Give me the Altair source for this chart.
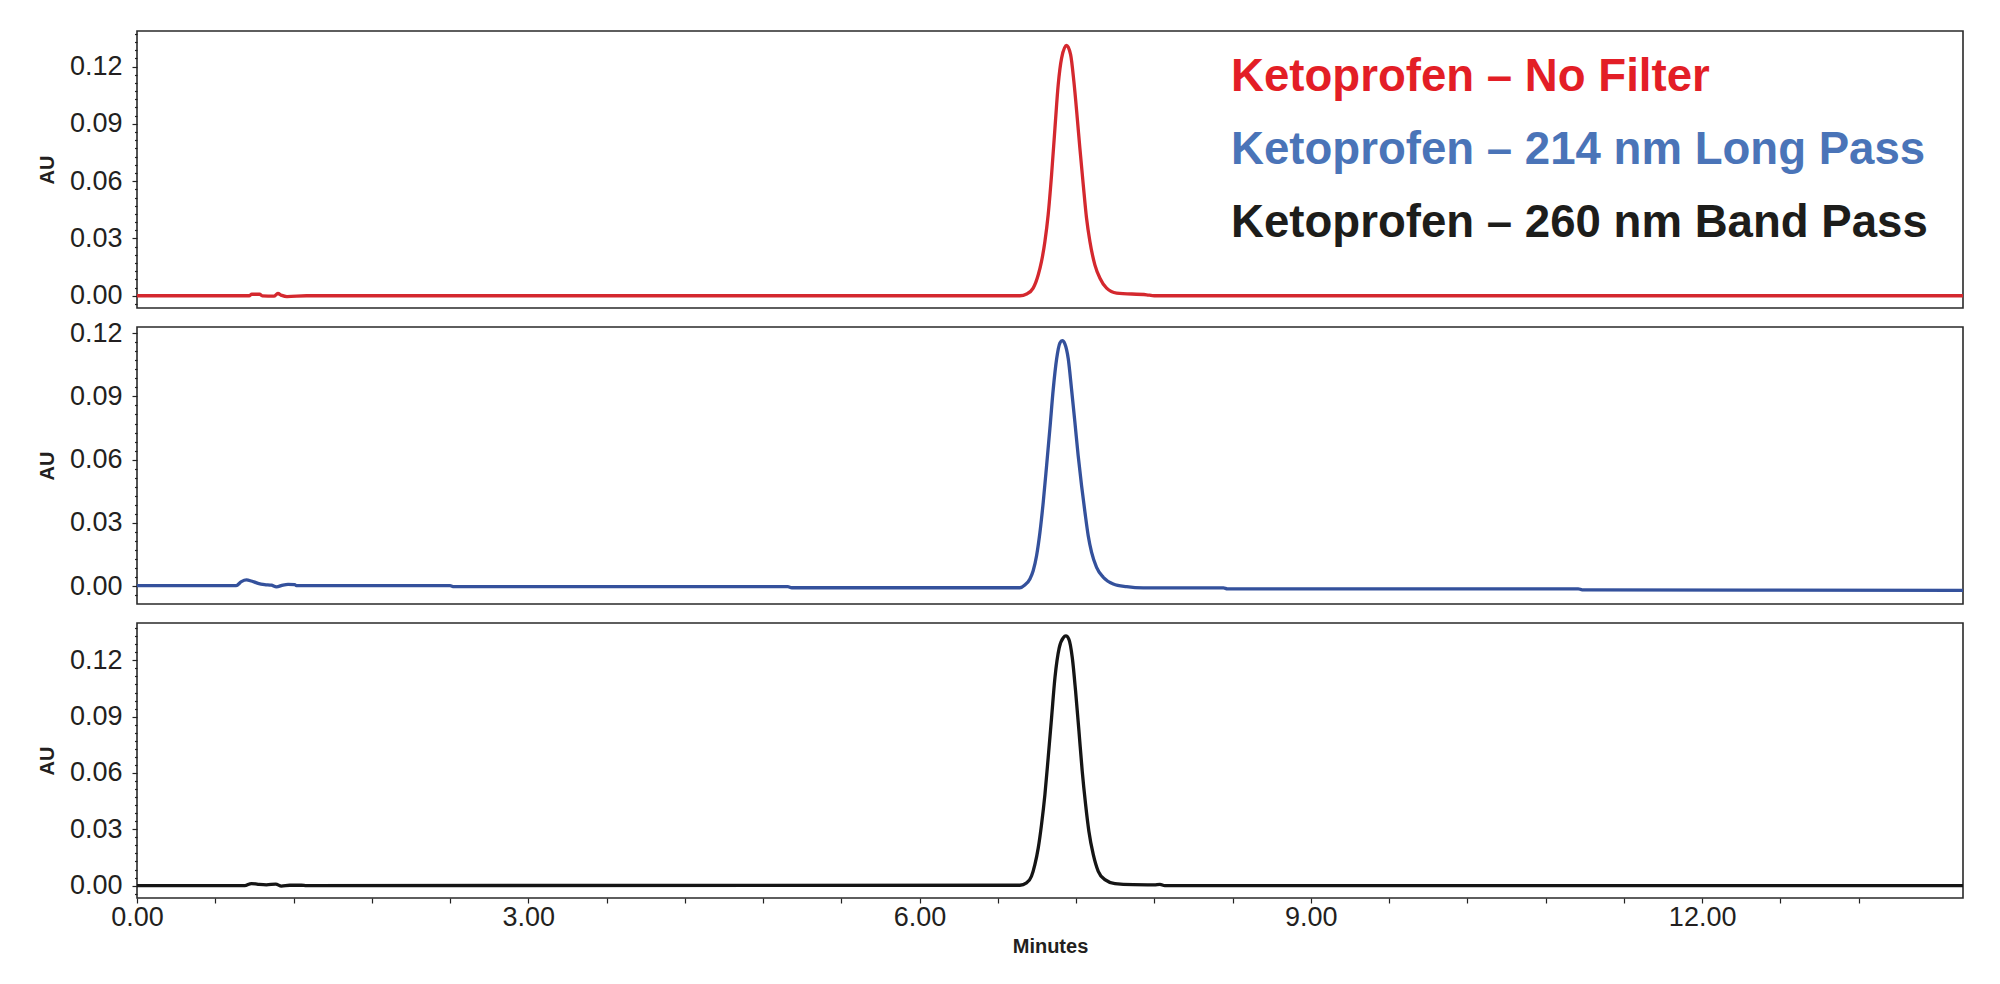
import altair as alt
import pandas as pd

# ---------------- data ----------------
red_t = [0.00, 0.86, 0.88, 0.94, 0.96, 1.05, 1.08, 1.11, 1.15, 1.30,
         6.769, 6.821, 6.871, 6.910, 6.935, 6.961, 6.986, 7.012, 7.038, 7.063, 7.089, 7.127,
         7.158, 7.183, 7.209, 7.229, 7.255, 7.280, 7.306, 7.344, 7.383, 7.434, 7.511, 7.741,
         7.80, 14.0]
red_v = [0.0, 0.0, 0.0008, 0.0008, 0.0, -0.0002, 0.0012, 0.0002, -0.0004, 0.0,
         0.0, 0.0009, 0.0040, 0.0110, 0.0180, 0.0284, 0.0424, 0.0633, 0.0878, 0.1105, 0.1244, 0.1310,
         0.1262, 0.1122, 0.0930, 0.0773, 0.0581, 0.0407, 0.0284, 0.0162, 0.0092, 0.0040, 0.0014, 0.0005,
         0.0, 0.0]

blue_t = [0.0, 0.76, 0.80, 0.839, 0.877, 0.928, 0.979, 1.031, 1.069, 1.12, 1.158, 1.209, 1.222,
          2.40, 2.43, 4.99, 5.02,
          6.769, 6.807, 6.846, 6.871, 6.897, 6.923, 6.948, 6.974, 6.999, 7.025, 7.051, 7.076, 7.094,
          7.114, 7.140, 7.165, 7.191, 7.216, 7.242, 7.268, 7.293, 7.319, 7.357, 7.408, 7.485, 7.588, 7.715,
          8.33, 8.36, 11.05, 11.08, 14.0]
blue_v = [0.0003, 0.0003, 0.0022, 0.0030, 0.0025, 0.0014, 0.0008, 0.0005, -0.0003, 0.0006, 0.0009, 0.0008, 0.0003,
          0.0003, -0.0002, -0.0002, -0.0007,
          -0.0007, 0.0006, 0.0035, 0.0074, 0.0145, 0.0256, 0.0398, 0.0572, 0.0746, 0.0935, 0.1078, 0.1153, 0.1164,
          0.1149, 0.1078, 0.0935, 0.0777, 0.0619, 0.0477, 0.0351, 0.0240, 0.0161, 0.0090, 0.0043, 0.0011, -0.0002, -0.0008,
          -0.0008, -0.0012, -0.0012, -0.0017, -0.0019]

black_t = [0.0, 0.826, 0.877, 0.928, 0.992, 1.064, 1.107, 1.171, 1.261, 1.299,
           6.769, 6.820, 6.858, 6.884, 6.910, 6.935, 6.961, 6.986, 7.012, 7.038, 7.071, 7.102, 7.122,
           7.145, 7.171, 7.196, 7.222, 7.247, 7.273, 7.298, 7.332, 7.370, 7.421, 7.498, 7.639,
           7.80, 7.843, 7.88, 14.0]
black_v = [0.0, 0.0, 0.0011, 0.0007, 0.0004, 0.0008, -0.0003, 0.0002, 0.0002, 0.0,
           0.0002, 0.0014, 0.0050, 0.0112, 0.0201, 0.0325, 0.0485, 0.0681, 0.0894, 0.1108, 0.1268, 0.1321, 0.1330,
           0.1312, 0.1214, 0.1037, 0.0823, 0.0610, 0.0432, 0.0290, 0.0165, 0.0076, 0.0032, 0.0011, 0.0005,
           0.0004, 0.0007, 0.0, 0.0]

legend_labels = ["Ketoprofen \u2013 No Filter",
                 "Ketoprofen \u2013 214 nm Long Pass",
                 "Ketoprofen \u2013 260 nm Band Pass"]
legend_colors = ["#e31e26", "#4a74b8", "#1d1d1b"]
line_colors = ["#d4282e", "#34519c", "#151515"]

y_major = [0.0, 0.03, 0.06, 0.09, 0.12]
y_minor_div = 7
x_major = [0.0, 3.0, 6.0, 9.0, 12.0]
x_minor_step = 0.6

X_DOMAIN = [0.0, 14.0]
Y_DOMAINS = [[-0.0064, 0.1386], [-0.0084, 0.1229], [-0.0066, 0.1399]]
HEIGHTS = [277, 277, 275]
WIDTH = 1826

FONT = "Arial, Liberation Sans, sans-serif"
LEG_FONT = "Arial, Liberation Sans, sans-serif"

step = 0.03 / y_minor_div
y_vals = [round(k * step, 6) for k in range(-3, 40)]

ytest = "abs(datum.value*100/3 - round(datum.value*100/3)) < 0.01"
xtest = "abs(datum.value/3 - round(datum.value/3)) < 0.01"
x_vals = [round(k * x_minor_step, 4) for k in range(0, 23)]


def y_axis(dom):
    vals = [v for v in y_vals if dom[0] <= v <= dom[1]]
    return alt.Axis(
        values=vals, title="AU", grid=False, domain=False,
        labelExpr=f"{ytest} ? format(datum.value, '.2f') : ''",
        tickSize={"condition": {"test": ytest, "value": 5}, "value": 2.5},
        tickColor="#222", tickWidth=1.2,
        labelFont=FONT, labelFontSize=27, labelColor="#231f20", labelPadding=10,
        labelOverlap=False, labelBound=False, labelFlush=False,
        titleFont=FONT, titleFontSize=20, titleFontWeight="bold", titleColor="#231f20",
        titlePadding=12,
    )


def x_axis():
    return alt.Axis(
        values=x_vals, title="Minutes", grid=False, domain=False,
        labelExpr=f"{xtest} ? format(datum.value, '.2f') : ''",
        tickSize=5, tickColor="#222", tickWidth=1.2,
        labelFont=FONT, labelFontSize=27, labelColor="#231f20", labelPadding=1,
        labelOverlap=False, labelFlush=False, labelBound=False,
        titleFont=FONT, titleFontSize=20, titleFontWeight="bold", titleColor="#231f20",
        titlePadding=6,
    )


series = [(red_t, red_v), (blue_t, blue_v), (black_t, black_v)]
panels = []
for i, (ts, vs) in enumerate(series):
    df = pd.DataFrame({"t": ts, "v": vs})
    dom = Y_DOMAINS[i]
    xenc = alt.X("t:Q", scale=alt.Scale(domain=X_DOMAIN, nice=False, zero=False),
                 axis=x_axis() if i == 2 else None)
    line = alt.Chart(df).mark_line(
        color=line_colors[i], strokeWidth=3.3, interpolate="monotone", strokeJoin="round", clip=True
    ).encode(
        x=xenc,
        y=alt.Y("v:Q", scale=alt.Scale(domain=dom, nice=False, zero=False), axis=y_axis(dom)),
    )
    layers = [line]
    if i == 0:
        for j, lab in enumerate(legend_labels):
            tdf = pd.DataFrame({"label": [lab]})
            layers.append(
                alt.Chart(tdf).mark_text(
                    align="left", baseline="alphabetic", font=LEG_FONT, fontSize=45.6,
                    fontWeight="bold", color=legend_colors[j]
                ).encode(text="label:N", x=alt.value(1094), y=alt.value(60 + 73 * j))
            )
    panels.append(alt.layer(*layers).properties(width=WIDTH, height=HEIGHTS[i]))

chart = alt.vconcat(*panels, spacing=19, bounds="flush").properties(
    padding={"left": 36, "top": 18, "right": 26, "bottom": 10},
    background="white",
).configure_view(stroke="#2a2a2a", strokeWidth=1.6)

chart.save("out.html", embed_options={"renderer": "svg", "actions": False})
